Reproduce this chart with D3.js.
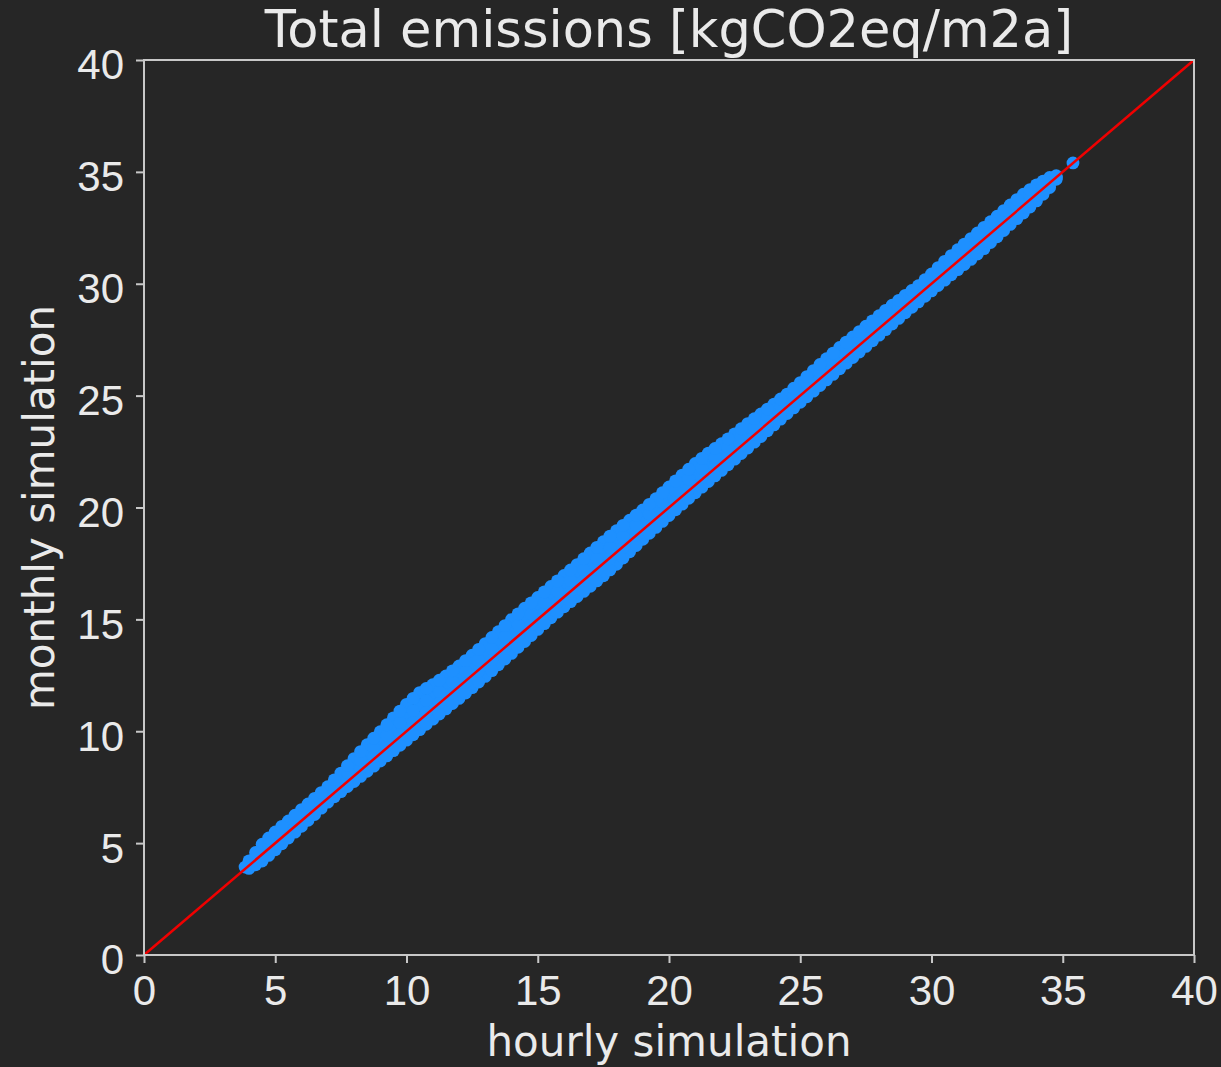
<!DOCTYPE html>
<html lang="en">
<head>
  <meta charset="utf-8">
  <title>Total emissions – hourly vs monthly</title>
  <style>
    html, body { margin:0; padding:0; background:#262626; overflow:hidden; }
    svg { display:block; font-family:"DejaVu Sans", sans-serif; }
    .tick text { fill:#eaeaea; font-size:42px; }
    .tick line { stroke:#c8c8c8; stroke-width:2px; }
  </style>
</head>
<body>
  <svg id="chart" width="1221" height="1067"></svg>
  <script src="https://d3js.org/d3.v7.min.js"></script>
  <script>
    // data read off the picture. The dense cloud is sampled in two staggered
    // sets of columns; each column has a lower edge, two inner values and an upper edge.
    const hourlyA = [4.0, 4.5, 5.0, 5.5, 6.0, 6.5, 7.0, 7.5, 8.0, 8.5,
      9.0, 9.5, 10.0, 10.5, 11.0, 11.5, 12.0, 12.5, 13.0, 13.5,
      14.0, 14.5, 15.0, 15.5, 16.0, 16.5, 17.0, 17.5, 18.0, 18.5,
      19.0, 19.5, 20.0, 20.5, 21.0, 21.5, 22.0, 22.5, 23.0, 23.5,
      24.0, 24.5, 25.0, 25.5, 26.0, 26.5, 27.0, 27.5, 28.0, 28.5,
      29.0, 29.5, 30.0, 30.5, 31.0, 31.5, 32.0, 32.5, 33.0, 33.5,
      34.0, 34.5];
    const monthlyA1 = [3.87, 4.20, 4.70, 5.23, 5.75, 6.28, 6.83, 7.30, 7.75, 8.21,
      8.67, 9.13, 9.60, 10.07, 10.54, 11.00, 11.47, 11.95, 12.45, 12.97,
      13.48, 14.01, 14.55, 15.07, 15.56, 16.02, 16.48, 16.95, 17.46, 18.02,
      18.58, 19.11, 19.64, 20.15, 20.66, 21.16, 21.66, 22.16, 22.66, 23.17,
      23.69, 24.20, 24.70, 25.20, 25.70, 26.20, 26.70, 27.20, 27.70, 28.20,
      28.70, 29.19, 29.68, 30.16, 30.63, 31.09, 31.57, 32.10, 32.65, 33.16,
      33.70, 34.30];
    const monthlyA2 = [3.98, 4.45, 4.97, 5.48, 6.00, 6.52, 7.06, 7.58, 8.09, 8.61,
      9.11, 9.62, 10.13, 10.62, 11.05, 11.49, 11.95, 12.43, 12.94, 13.46,
      13.98, 14.51, 15.03, 15.54, 16.03, 16.50, 16.98, 17.46, 17.96, 18.49,
      19.02, 19.54, 20.07, 20.58, 21.10, 21.58, 22.06, 22.54, 23.02, 23.51,
      24.00, 24.49, 24.99, 25.51, 26.02, 26.52, 27.01, 27.50, 27.99, 28.48,
      28.96, 29.43, 29.93, 30.44, 30.93, 31.40, 31.89, 32.41, 32.94, 33.44,
      33.94, 34.45];
    const monthlyA3 = [4.10, 4.70, 5.23, 5.74, 6.25, 6.76, 7.29, 7.85, 8.44, 9.00,
      9.54, 10.11, 10.67, 11.18, 11.57, 11.98, 12.44, 12.92, 13.43, 13.96,
      14.49, 15.00, 15.50, 16.00, 16.49, 16.97, 17.47, 17.96, 18.46, 18.96,
      19.45, 19.96, 20.49, 21.02, 21.53, 22.01, 22.45, 22.91, 23.39, 23.84,
      24.31, 24.78, 25.29, 25.81, 26.33, 26.83, 27.31, 27.80, 28.28, 28.76,
      29.22, 29.67, 30.19, 30.72, 31.22, 31.71, 32.20, 32.71, 33.23, 33.72,
      34.18, 34.60];
    const monthlyA4 = [4.21, 4.95, 5.50, 5.99, 6.50, 7.00, 7.52, 8.13, 8.78, 9.40,
      9.98, 10.60, 11.20, 11.73, 12.08, 12.47, 12.92, 13.40, 13.92, 14.45,
      14.99, 15.50, 15.98, 16.47, 16.96, 17.45, 17.97, 18.47, 18.96, 19.43,
      19.89, 20.39, 20.92, 21.45, 21.97, 22.43, 22.85, 23.29, 23.75, 24.18,
      24.62, 25.07, 25.58, 26.12, 26.65, 27.15, 27.62, 28.10, 28.57, 29.04,
      29.48, 29.91, 30.44, 31.00, 31.52, 32.02, 32.52, 33.02, 33.52, 34.00,
      34.42, 34.75];

    const hourlyB = [4.25, 4.75, 5.25, 5.75, 6.25, 6.75, 7.25, 7.75, 8.25, 8.75,
      9.25, 9.75, 10.25, 10.75, 11.25, 11.75, 12.25, 12.75, 13.25, 13.75,
      14.25, 14.75, 15.25, 15.75, 16.25, 16.75, 17.25, 17.75, 18.25, 18.75,
      19.25, 19.75, 20.25, 20.75, 21.25, 21.75, 22.25, 22.75, 23.25, 23.75,
      24.25, 24.75, 25.25, 25.75, 26.25, 26.75, 27.25, 27.75, 28.25, 28.75,
      29.25, 29.75, 30.25, 30.75, 31.25, 31.75, 32.25, 32.75, 33.25, 33.75,
      34.25, 34.75];
    const monthlyB1 = [4.03, 4.45, 4.97, 5.49, 6.02, 6.56, 7.07, 7.53, 7.98, 8.44,
      8.90, 9.37, 9.84, 10.31, 10.77, 11.24, 11.71, 12.20, 12.71, 13.23,
      13.75, 14.28, 14.81, 15.32, 15.79, 16.25, 16.72, 17.21, 17.74, 18.30,
      18.85, 19.38, 19.90, 20.41, 20.91, 21.41, 21.91, 22.41, 22.92, 23.43,
      23.95, 24.45, 24.95, 25.45, 25.95, 26.45, 26.95, 27.45, 27.95, 28.45,
      28.95, 29.44, 29.92, 30.40, 30.86, 31.33, 31.84, 32.38, 32.91, 33.43,
      34.00, 34.67];
    const monthlyB2 = [4.21, 4.71, 5.23, 5.74, 6.26, 6.79, 7.32, 7.84, 8.35, 8.86,
      9.36, 9.88, 10.38, 10.84, 11.27, 11.72, 12.19, 12.69, 13.20, 13.72,
      14.25, 14.77, 15.28, 15.78, 16.26, 16.74, 17.22, 17.71, 18.22, 18.75,
      19.28, 19.80, 20.33, 20.84, 21.34, 21.82, 22.30, 22.78, 23.27, 23.75,
      24.25, 24.74, 25.25, 25.76, 26.27, 26.76, 27.25, 27.75, 28.24, 28.72,
      29.20, 29.68, 30.19, 30.68, 31.16, 31.64, 32.15, 32.67, 33.19, 33.69,
      34.20, 34.72];
    const monthlyB3 = [4.40, 4.97, 5.49, 5.99, 6.51, 7.03, 7.57, 8.15, 8.72, 9.27,
      9.83, 10.39, 10.92, 11.37, 11.77, 12.21, 12.68, 13.17, 13.69, 14.22,
      14.75, 15.25, 15.75, 16.25, 16.73, 17.22, 17.72, 18.21, 18.71, 19.21,
      19.71, 20.23, 20.76, 21.28, 21.77, 22.23, 22.68, 23.15, 23.62, 24.08,
      24.55, 25.03, 25.55, 26.07, 26.58, 27.07, 27.56, 28.04, 28.52, 28.99,
      29.45, 29.93, 30.45, 30.97, 31.47, 31.96, 32.46, 32.97, 33.48, 33.95,
      34.39, 34.78];
    const monthlyB4 = [4.58, 5.23, 5.75, 6.25, 6.75, 7.26, 7.83, 8.46, 9.09, 9.69,
      10.29, 10.90, 11.47, 11.91, 12.28, 12.70, 13.16, 13.66, 14.19, 14.72,
      15.25, 15.74, 16.23, 16.72, 17.21, 17.71, 18.22, 18.72, 19.20, 19.66,
      20.14, 20.66, 21.19, 21.71, 22.20, 22.64, 23.07, 23.52, 23.97, 24.40,
      24.85, 25.33, 25.85, 26.39, 26.90, 27.39, 27.86, 28.34, 28.81, 29.26,
      29.70, 30.18, 30.72, 31.26, 31.77, 32.27, 32.77, 33.27, 33.76, 34.21,
      34.59, 34.83];

    // single points: the lower tip of the cloud and the lone point at the top end
    const extraHourly = [3.85, 35.39];
    const extraMonthly = [3.93, 35.40];

    const ticks = [0, 5, 10, 15, 20, 25, 30, 35, 40];
    const identityLine = [[0, 0], [40, 40]];

    // table of points built from the arrays above
    const points = [];
    hourlyA.forEach((h, i) => {
      [monthlyA1, monthlyA2, monthlyA3, monthlyA4].forEach(s => points.push([h, s[i]]));
    });
    hourlyB.forEach((h, i) => {
      [monthlyB1, monthlyB2, monthlyB3, monthlyB4].forEach(s => points.push([h, s[i]]));
    });
    extraHourly.forEach((h, i) => points.push([h, extraMonthly[i]]));

    const svg = d3.select("#chart");
    const plotLeft = 144, plotRight = 1194, plotTop = 60, plotBottom = 955;

    const x = d3.scaleLinear().domain([0, 40]).range([plotLeft, plotRight]);
    const y = d3.scaleLinear().domain([0, 40]).range([plotBottom, plotTop]);

    // scatter
    svg.append("g")
      .selectAll("circle")
      .data(points)
      .join("circle")
        .attr("cx", d => x(d[0]))
        .attr("cy", d => y(d[1]))
        .attr("r", 6.4)
        .attr("fill", "#1e90ff");

    // y = x reference line
    svg.append("path")
      .datum(identityLine)
      .attr("d", d3.line().x(d => x(d[0])).y(d => y(d[1])))
      .attr("stroke", "#f00000")
      .attr("stroke-width", 2.5)
      .attr("fill", "none");

    // axes
    const gx = svg.append("g")
      .attr("transform", `translate(0,${plotBottom})`)
      .call(d3.axisBottom(x).tickValues(ticks).tickFormat(d3.format("d"))
        .tickSize(8).tickPadding(12).tickSizeOuter(0));
    gx.select(".domain").remove();

    const gy = svg.append("g")
      .attr("transform", `translate(${plotLeft},0)`)
      .call(d3.axisLeft(y).tickValues(ticks).tickFormat(d3.format("d"))
        .tickSize(8).tickPadding(12).tickSizeOuter(0));
    gy.select(".domain").remove();
    gy.selectAll(".tick text").attr("dy", "0.45em");

    // frame
    svg.append("rect")
      .attr("x", plotLeft).attr("y", plotTop)
      .attr("width", plotRight - plotLeft).attr("height", plotBottom - plotTop)
      .attr("fill", "none")
      .attr("stroke", "#c8c8c8")
      .attr("stroke-width", 2);

    // texts
    svg.append("text")
      .attr("x", (plotLeft + plotRight) / 2).attr("y", 47)
      .attr("text-anchor", "middle")
      .attr("fill", "#eaeaea").attr("font-size", 51)
      .text("Total emissions [kgCO2eq/m2a]");

    svg.append("text")
      .attr("x", (plotLeft + plotRight) / 2).attr("y", 1056)
      .attr("text-anchor", "middle")
      .attr("fill", "#eaeaea").attr("font-size", 42)
      .text("hourly simulation");

    svg.append("text")
      .attr("transform", `translate(54,${(plotTop + plotBottom) / 2}) rotate(-90)`)
      .attr("text-anchor", "middle")
      .attr("fill", "#eaeaea").attr("font-size", 42)
      .text("monthly simulation");
  </script>
</body>
</html>
